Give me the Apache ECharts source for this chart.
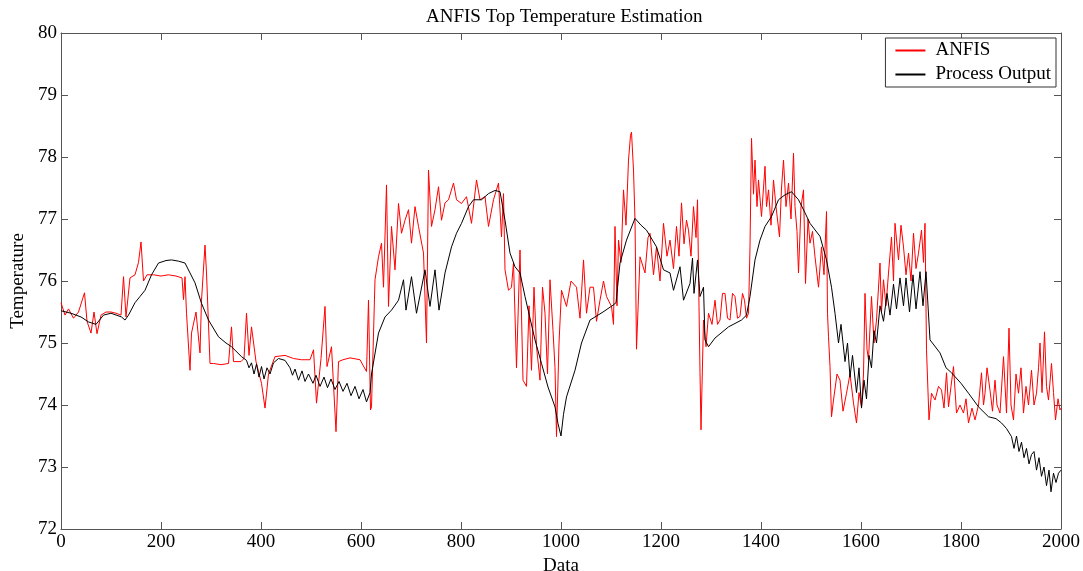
<!DOCTYPE html>
<html>
<head>
<meta charset="utf-8">
<script src="https://cdn.jsdelivr.net/npm/echarts@6/dist/echarts.min.js"></script>
<style>
  html, body { margin: 0; padding: 0; background: #fff; }
  #chart { width: 1083px; height: 571px; }
</style>
</head>
<body>
<div id="chart"></div>
<script>
// sample index / value
const processIdx = [0,10,20,30,40,55,70,85,100,121,128,135,148,158,168,181,195,210,221,235,248,258,268,281,295,315,330,341,361,371,376,381,386,391,396,401,406,412,418,425,435,448,458,463,468,475,482,488,495,504,510,518,526,533,540,548,556,564,572,580,588,596,604,611,618,621,635,648,661,675,685,690,701,711,728,738,748,756,768,781,791,801,815,825,841,855,868,878,888,898,908,918,928,938,948,961,974,988,994,1000,1005,1011,1028,1041,1058,1084,1104,1110,1118,1131,1148,1160,1171,1191,1205,1218,1225,1238,1245,1258,1263,1266,1273,1278,1285,1288,1295,1308,1335,1361,1371,1378,1388,1398,1408,1421,1435,1448,1461,1475,1488,1498,1518,1531,1541,1548,1555,1560,1568,1573,1578,1583,1591,1596,1601,1606,1611,1616,1621,1626,1631,1638,1645,1652,1658,1665,1671,1678,1685,1690,1697,1704,1710,1718,1724,1730,1738,1758,1770,1781,1800,1815,1835,1855,1870,1881,1891,1901,1906,1911,1916,1921,1926,1931,1936,1941,1946,1951,1956,1961,1966,1971,1976,1980,1985,1990,1995,2000];
const processVal = [75.52,75.5,75.48,75.45,75.42,75.34,75.3,75.45,75.48,75.42,75.37,75.45,75.65,75.75,75.85,76.1,76.29,76.33,76.34,76.32,76.29,76.13,75.97,75.64,75.37,75.1,75.0,74.94,74.78,74.72,74.6,74.68,74.5,74.66,74.45,74.62,74.42,74.6,74.5,74.68,74.75,74.72,74.6,74.48,74.58,74.4,74.55,74.38,74.5,74.35,74.48,74.3,74.45,74.28,74.42,74.25,74.38,74.22,74.35,74.15,74.3,74.1,74.25,74.05,74.2,74.5,75.16,75.42,75.53,75.69,76.02,75.53,76.07,75.48,76.18,75.59,76.18,75.53,76.13,76.55,76.77,76.93,77.2,77.31,77.31,77.41,77.46,77.44,76.98,76.45,76.23,76.13,75.75,75.4,75.05,74.67,74.29,73.97,73.7,73.5,73.85,74.13,74.56,75.0,75.37,75.5,75.61,75.65,76.29,76.66,77.01,76.9,76.82,76.55,76.18,76.13,75.85,76.23,75.69,75.96,76.37,75.8,76.34,75.75,75.9,75.05,74.94,75.08,75.26,75.37,75.45,75.75,76.34,76.66,76.88,77.04,77.31,77.39,77.44,77.31,77.1,76.93,76.72,76.34,75.9,75.48,75.0,75.3,74.7,75.0,74.45,74.8,74.2,74.6,73.95,74.4,74.1,74.8,74.6,75.2,75.0,75.6,75.35,75.8,75.45,75.95,75.55,76.05,75.6,76.05,75.5,76.1,75.55,76.15,75.6,76.15,75.05,74.84,74.6,74.52,74.35,74.19,73.97,73.81,73.78,73.71,73.62,73.49,73.3,73.5,73.25,73.4,73.15,73.3,73.05,73.2,73.25,72.95,73.15,72.85,73.0,72.7,72.95,72.6,72.9,72.75,72.9,72.95];

const anfisIdx = [0,8,15,25,35,47,52,60,66,72,80,90,100,110,120,125,130,138,148,155,160,165,172,185,200,215,230,242,245,248,251,258,261,270,278,281,288,291,298,305,320,335,341,345,360,366,371,376,381,390,401,408,415,428,448,465,481,498,505,511,520,528,532,541,550,555,564,578,598,611,615,619,621,628,635,641,645,651,655,661,668,675,681,688,695,701,708,715,725,731,735,741,748,755,761,768,775,785,791,801,811,821,831,838,848,855,865,875,881,885,888,895,901,905,911,918,924,931,936,941,946,951,958,963,968,973,978,984,988,991,996,1001,1011,1020,1031,1038,1045,1051,1058,1065,1071,1078,1085,1091,1101,1105,1108,1112,1115,1120,1125,1130,1135,1139,1141,1145,1148,1151,1158,1168,1174,1178,1185,1191,1198,1205,1212,1218,1225,1231,1236,1241,1246,1251,1255,1260,1265,1270,1273,1276,1278,1280,1285,1290,1295,1302,1308,1313,1318,1323,1328,1333,1338,1343,1348,1353,1358,1363,1367,1371,1375,1378,1381,1385,1388,1392,1395,1401,1408,1411,1415,1420,1425,1430,1437,1441,1445,1450,1455,1460,1465,1468,1472,1475,1480,1485,1489,1494,1498,1503,1508,1515,1521,1526,1531,1533,1535,1538,1541,1545,1552,1558,1564,1571,1578,1585,1591,1596,1601,1605,1608,1612,1615,1621,1626,1631,1638,1641,1645,1650,1655,1661,1665,1668,1675,1680,1685,1690,1695,1700,1705,1710,1715,1721,1725,1728,1731,1736,1741,1748,1755,1761,1766,1771,1775,1780,1785,1791,1798,1805,1810,1815,1822,1828,1835,1841,1845,1848,1852,1858,1863,1868,1872,1878,1885,1891,1896,1900,1905,1910,1915,1920,1925,1930,1935,1941,1946,1951,1955,1958,1962,1967,1971,1975,1981,1985,1989,1994,1998,2000];
const anfisVal = [75.65,75.45,75.55,75.4,75.5,75.81,75.35,75.16,75.5,75.15,75.45,75.5,75.5,75.48,75.45,76.07,75.42,76.05,76.1,76.3,76.63,76.0,76.1,76.1,76.08,76.1,76.08,76.05,75.7,76.07,75.48,74.56,75.16,75.5,74.84,75.69,76.58,76.13,74.67,74.67,74.65,74.67,75.26,74.7,74.7,74.75,75.48,74.8,75.26,74.7,74.35,73.95,74.5,74.78,74.8,74.75,74.73,74.73,74.89,74.03,74.75,75.59,74.62,74.94,73.57,74.7,74.73,74.76,74.73,74.54,75.69,73.92,73.97,76.02,76.39,76.61,75.9,77.55,75.59,76.88,76.18,77.25,76.77,76.98,77.15,76.61,77.2,76.88,76.45,75.0,77.79,76.88,77.15,77.52,76.98,77.26,77.31,77.58,77.31,77.25,77.36,76.93,77.63,77.31,77.36,76.88,77.31,77.58,76.71,77.41,76.18,75.85,75.9,76.3,74.6,76.5,74.4,74.3,75.6,74.56,75.9,74.94,74.4,75.9,75.48,74.5,76.02,75.2,74.6,73.49,75.0,75.85,75.59,76.0,75.9,75.4,76.34,75.48,75.9,75.9,75.35,75.69,76.0,75.75,75.59,75.3,76.88,75.6,76.66,76.3,77.47,76.9,77.95,78.35,78.4,77.79,76.98,74.9,76.39,76.13,76.7,76.77,76.1,76.55,76.0,76.93,76.4,76.66,76.2,76.88,76.4,77.26,76.6,76.98,76.82,76.4,77.2,76.7,77.31,75.59,74.52,73.6,75.37,74.94,75.48,75.3,75.69,75.3,75.37,75.8,75.8,75.4,75.37,75.8,75.75,75.4,75.43,75.8,75.69,75.4,75.48,76.55,78.3,77.4,77.95,77.2,77.63,77.04,77.85,77.2,77.47,76.9,77.63,77.2,76.71,77.5,77.95,77.2,77.58,77.0,78.06,77.2,76.8,76.13,77.2,77.47,75.96,77.0,76.61,76.8,76.39,75.9,76.55,76.1,77.12,75.48,75.1,74.62,73.81,74.08,74.5,74.4,73.9,74.19,74.5,74.03,73.71,74.2,73.97,74.5,75.8,74.9,74.73,75.75,75.0,75.37,76.29,75.5,76.02,75.6,76.13,76.71,76.0,76.93,76.34,76.9,76.55,76.1,76.45,76.0,76.77,76.2,76.45,76.82,76.3,76.93,74.89,73.76,74.19,74.08,74.3,74.24,73.95,74.52,73.97,74.3,74.62,73.87,74.0,73.87,74.1,73.71,73.95,73.76,74.0,74.52,74.0,74.19,74.6,74.24,73.9,74.4,74.0,73.87,74.78,73.87,75.24,74.0,73.76,74.5,74.19,74.6,73.87,74.3,74.0,74.56,74.0,74.19,74.6,75.0,74.2,75.18,74.3,74.08,74.67,74.2,73.76,74.1,73.92,73.95];

const xTicks = [0, 2000, 200];
const yTicks = [72, 80, 1];

const pair = (xs, ys) => xs.map((x, i) => [x, ys[i]]);

const font = 'Liberation Serif';
const axisColor = '#555';

const chart = echarts.init(document.getElementById('chart'));

//每条轴都要画内侧的刻度，上边和右边也一样
function boxAxis(extra) {
  return Object.assign({
    type: 'value',
    axisLine: { show: true, onZero: false, lineStyle: { color: axisColor, width: 1 } },
    axisTick: { show: true, inside: true, length: 7, lineStyle: { color: axisColor } },
    splitLine: { show: false },
    axisLabel: { show: false }
  }, extra);
}

chart.setOption({
  animation: false,
  backgroundColor: '#fff',
  //标题放在绘图区的正中，而不是整个画布的正中
  title: {
    text: 'ANFIS Top Temperature Estimation',
    left: 421,
    top: 3,
    textStyle: { fontFamily: font, fontSize: 19, fontWeight: 'normal', color: '#000' }
  },
  grid: { left: 61, right: 22, top: 33, bottom: 42, outerBoundsMode: 'none' },
  legend: {
    orient: 'vertical',
    right: 27,
    top: 38,
    itemWidth: 30,
    itemHeight: 2,
    itemGap: 5,
    icon: 'rect',
    padding: [3, 5, 3, 10],
    backgroundColor: '#fff',
    borderColor: '#333',
    borderWidth: 1,
    borderRadius: 0,
    textStyle: { fontFamily: font, fontSize: 19, color: '#000', padding: [0, 0, 0, 5] },
    data: ['ANFIS', 'Process Output']
  },
  xAxis: [
    boxAxis({
      min: xTicks[0], max: xTicks[1], interval: xTicks[2],
      name: 'Data', nameLocation: 'middle', nameGap: 24,
      nameTextStyle: { fontFamily: font, fontSize: 19, color: '#000' },
      axisLabel: { show: true, fontFamily: font, fontSize: 19, color: '#000', margin: 4, formatter: v => String(v) }
    }),
    boxAxis({ min: xTicks[0], max: xTicks[1], interval: xTicks[2], position: 'top' })
  ],
  yAxis: [
    boxAxis({
      min: yTicks[0], max: yTicks[1], interval: yTicks[2],
      name: 'Temperature', nameLocation: 'middle', nameGap: 33,
      nameTextStyle: { fontFamily: font, fontSize: 19, color: '#000' },
      axisLabel: { show: true, fontFamily: font, fontSize: 19, color: '#000', margin: 4 }
    }),
    boxAxis({ min: yTicks[0], max: yTicks[1], interval: yTicks[2], position: 'right' })
  ],
  series: [
    {
      name: 'ANFIS',
      type: 'line',
      data: pair(anfisIdx, anfisVal),
      showSymbol: false,
      color: '#ff0000',
      lineStyle: { width: 1, color: '#ff0000' },
      z: 2
    },
    {
      name: 'Process Output',
      type: 'line',
      data: pair(processIdx, processVal),
      showSymbol: false,
      color: '#000',
      lineStyle: { width: 1, color: '#000' },
      z: 3
    }
  ]
});
</script>
</body>
</html>
